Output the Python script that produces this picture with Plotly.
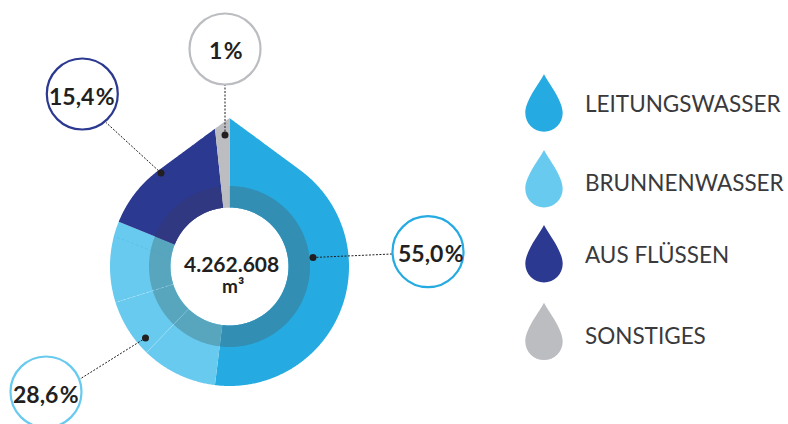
import math
import plotly.graph_objects as go

# ---- data ----
categories = ["LEITUNGSWASSER", "BRUNNENWASSER", "AUS FLÜSSEN", "SONSTIGES"]
share_labels = ["55,0\u200a%", "28,6\u200a%", "15,4\u200a%", "1\u200a%"]
total_label = "4.262.608"
unit_label = "m³"
# drawn segments, clockwise from the tip: sweep in degrees and category index
segment_sweeps = [187, 37, 28.5, 39.5, 62, 6]
segment_category = [0, 1, 1, 1, 2, 3]
# angle of the faint dashed seam in the upper part of Brunnenwasser, at hole and rim
faint_seam_theta = [278, 284.7]

# ---- styles ----
W, H = 788, 424
CX, CY = 229.5, 266.5
R_OUT, R_RING, R_HOLE = 119.5, 80.5, 59.0
TIP = 148.5
colors = ["#25AAE2", "#68CAEF", "#2B3990", "#BBBDC1"]
ring_colors = ["#338EB3", "#58A5BE", "#2F3880", "#BBBDC1"]
INK = "#231F20"
TEXT = "#3A3A3C"
FONT = "Lato"

a_tan = math.degrees(math.acos(R_OUT / TIP))


def outer_r(theta):
    t = ((theta + 180) % 360) - 180
    return R_OUT / math.cos(math.radians(a_tan - abs(t))) if abs(t) < a_tan else R_OUT


def sector(t0, t1, r_in, r_out):
    n = max(2, int(abs(t1 - t0) * 2) + 1)
    ts = [t0 + (t1 - t0) * i / (n - 1) for i in range(n)]
    rs = [r_out(t) for t in ts] + [r_in(t) for t in reversed(ts)]
    return rs + rs[:1], ts + ts[::-1] + ts[:1]


fig = go.Figure()
start = 0.0
boundaries = []
for sweep, cat in zip(segment_sweeps, segment_category):
    end = start + sweep
    r, th = sector(start, end, lambda t: R_HOLE, outer_r)
    fig.add_trace(go.Scatterpolar(r=r, theta=th, mode="lines", fill="toself", fillcolor=colors[cat],
                                  line=dict(width=0, color=colors[cat]), hoverinfo="skip", showlegend=False))
    r, th = sector(start, end, lambda t: R_HOLE, lambda t: R_RING)
    fig.add_trace(go.Scatterpolar(r=r, theta=th, mode="lines", fill="toself", fillcolor=ring_colors[cat],
                                  line=dict(width=0, color=ring_colors[cat]), hoverinfo="skip", showlegend=False))
    boundaries.append(end)
    start = end

# faint seams between the sub-parts of Brunnenwasser
fig.add_trace(go.Scatterpolar(r=[R_HOLE, R_OUT], theta=[boundaries[1]] * 2, mode="lines",
                              line=dict(width=0.6, color="rgba(255,255,255,0.3)"),
                              hoverinfo="skip", showlegend=False))
fig.add_trace(go.Scatterpolar(r=[R_HOLE, R_OUT], theta=[boundaries[2]] * 2, mode="lines",
                              line=dict(width=0.6, color="rgba(255,255,255,0.4)", dash="3px,2px"),
                              hoverinfo="skip", showlegend=False))
fig.add_trace(go.Scatterpolar(r=[R_HOLE, R_OUT], theta=faint_seam_theta, mode="lines",
                              line=dict(width=0.6, color="rgba(60,160,210,0.35)", dash="3px,2px"),
                              hoverinfo="skip", showlegend=False))


def px(x):
    return x / W


def py(y):
    return 1 - y / H


shapes = []
annotations = []


def text(x, y, s, size, color=INK, weight=400, anchor="center"):
    annotations.append(dict(x=px(x), y=py(y), xref="paper", yref="paper", text=s, showarrow=False,
                            xanchor=anchor, yanchor="middle",
                            font=dict(family=FONT, size=size, color=color, weight=weight)))


# callouts: circle centre, text, leader start/end, colour
callouts = [
    (428, 251.7, 0, (313, 257.5), (392, 254), colors[0], 431),
    (46, 392, 1, (145.5, 338), (80, 379), colors[1], 45.5),
    (82.3, 94, 2, (161, 173), (106, 122.5), colors[2], 82),
    (225, 49, 3, (225, 135), (225, 85), colors[3], 225.5),
]
for cx, cy, i, p0, p1, col, tx in callouts:
    shapes.append(dict(type="line", xref="paper", yref="paper", x0=px(p0[0]), y0=py(p0[1]), x1=px(p1[0]), y1=py(p1[1]),
                       line=dict(color=INK, width=1, dash="2px,1.5px"), layer="above"))
    shapes.append(dict(type="circle", xref="paper", yref="paper", x0=px(p0[0] - 3.5), x1=px(p0[0] + 3.5),
                       y0=py(p0[1] - 3.5), y1=py(p0[1] + 3.5), fillcolor=INK, line=dict(width=0), layer="above"))
    shapes.append(dict(type="circle", xref="paper", yref="paper", x0=px(cx - 35.5), x1=px(cx + 35.5),
                       y0=py(cy - 35.5), y1=py(cy + 35.5), fillcolor="white", line=dict(color=col, width=2.2), layer="above"))
    text(tx, cy + 1.5, share_labels[i], 23, weight=700)

text(CX + 2, 263, total_label, 21, weight=700)
text(CX + 3, 285, unit_label, 19, weight=700)

# legend
DX, DHW, DH, DCOMP = 544, 18.7, 57.4, 38.7
legend_tops = [74.3, 150, 225, 302.7]
legend_text_y = [103, 182, 254, 335]
for cat, top, ty in zip(categories, legend_tops, legend_text_y):
    i = categories.index(cat)
    k = DHW * 0.55
    P = lambda x, y: f"{px(x):.5f},{py(y):.5f}"
    path = (f"M{P(DX, top)} C{P(DX + 4, top + 8)} {P(DX + DHW, top + 26)} {P(DX + DHW, top + DCOMP)} "
            f"C{P(DX + DHW, top + DCOMP + k)} {P(DX + k, top + DH)} {P(DX, top + DH)} "
            f"C{P(DX - k, top + DH)} {P(DX - DHW, top + DCOMP + k)} {P(DX - DHW, top + DCOMP)} "
            f"C{P(DX - DHW, top + 26)} {P(DX - 4, top + 8)} {P(DX, top)} Z")
    shapes.append(dict(type="path", xref="paper", yref="paper", path=path, fillcolor=colors[i], line=dict(width=0)))
    text(583, ty, cat, 22.5, color=TEXT, anchor="left")

fig.update_layout(
    width=W, height=H, margin=dict(l=0, r=0, t=0, b=0), paper_bgcolor="white", plot_bgcolor="white",
    showlegend=False, shapes=shapes, annotations=annotations,
    polar=dict(
        domain=dict(x=[px(CX - TIP), px(CX + TIP)], y=[py(CY + TIP), py(CY - TIP)]),
        bgcolor="rgba(0,0,0,0)",
        radialaxis=dict(visible=False, range=[0, TIP]),
        angularaxis=dict(visible=False, rotation=90, direction="clockwise"),
    ),
)
fig.write_html("out.html", config=dict(displayModeBar=False),
               post_script="document.body.style.margin='0';document.documentElement.style.overflow='hidden';")
